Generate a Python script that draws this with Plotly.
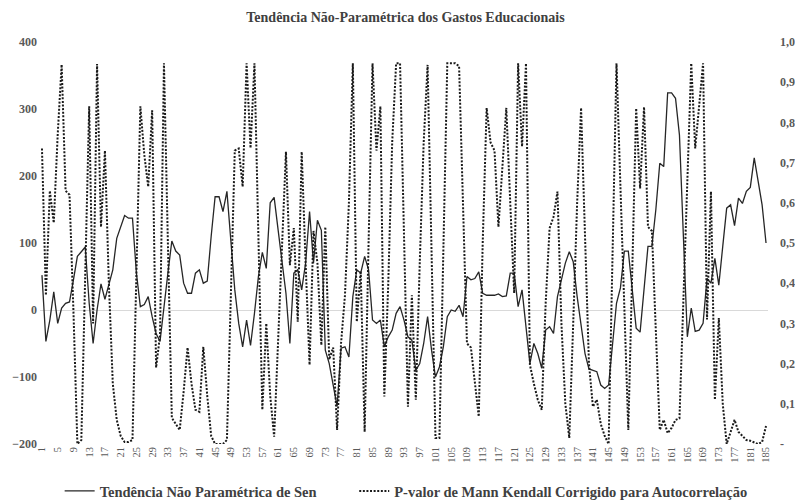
import plotly.graph_objects as go

categories = list(range(1, 186))

sen_trend = [
    52, -47, -15, 27, -20, 3, 10, 12, 45, 80,
    87, 94, 10, -50, 0, 39, 16, 40, 60, 107,
    125, 141, 137, 137, 55, 5, 8, 20, -10, -35,
    -47, 0, 55, 103, 88, 82, 40, 25, 25, 55,
    60, 40, 43, 110, 169, 169, 147, 177, 110, 30,
    -20, -55, -15, -53, -5, 50, 86, 62, 160, 168,
    120, 75, 25, -50, 55, 60, 30, 70, 147, 70,
    134, 119, -60, -80, -110, -144, -57, -55, -70, 20,
    60, 55, 80, 60, -15, -20, -15, -55, -40, -30,
    -5, 5, -15, -40, -45, -90, -80, -50, -10, -60,
    -100, -85, -55, -10, 0, -2, 7, -10, 50, 45,
    47, 57, 25, 22, 22, 22, 24, 20, 21, 55,
    55, 5, 30, -30, -80, -50, -65, -87, -30, -25,
    -35, 20, 45, 70, 87, 72, 20, -25, -65, -88,
    -90, -92, -112, -117, -112, -50, 10, 33, 88, 88,
    30, -27, -33, 30, 95, 95, 150, 219, 214, 324,
    324, 316, 261, 110, -40, 3, -32, -30, -20, 47,
    40, 77, 37, 95, 152, 157, 126, 167, 159, 177,
    183, 227, 192, 157, 100,
]

p_value = [
    0.735, 0.37, 0.63, 0.55, 0.77, 0.944, 0.63, 0.62, 0.33, 0.0,
    0.01, 0.44, 0.84, 0.30, 0.945, 0.54, 0.73, 0.40, 0.15, 0.06,
    0.02, 0.005, 0.005, 0.01, 0.45, 0.84, 0.72, 0.64, 0.83, 0.19,
    0.27, 0.947, 0.5, 0.065, 0.05, 0.035, 0.13, 0.24, 0.15, 0.085,
    0.08, 0.242, 0.12, 0.02, 0.0, 0.0, 0.0, 0.01, 0.35, 0.73,
    0.735, 0.64, 0.947, 0.736, 0.947, 0.5, 0.085, 0.30, 0.12, 0.018,
    0.25, 0.5, 0.727, 0.445, 0.537, 0.304, 0.727, 0.45, 0.197, 0.53,
    0.45, 0.246, 0.54, 0.21, 0.24, 0.035, 0.25, 0.37, 0.6, 0.947,
    0.304, 0.43, 0.03, 0.5, 0.947, 0.73, 0.84, 0.118, 0.4, 0.75,
    0.947, 0.947, 0.5, 0.093, 0.37, 0.11, 0.45, 0.75, 0.943, 0.45,
    0.015, 0.015, 0.5, 0.947, 0.947, 0.947, 0.94, 0.6, 0.25, 0.24,
    0.15, 0.068, 0.5, 0.836, 0.75, 0.73, 0.54, 0.7, 0.836, 0.6,
    0.375, 0.947, 0.74, 0.947, 0.197, 0.15, 0.11, 0.085, 0.35, 0.537,
    0.565, 0.628, 0.3, 0.1, 0.015, 0.3, 0.6, 0.836, 0.5, 0.2,
    0.093, 0.11, 0.05, 0.02, 0.0, 0.47, 0.947, 0.64, 0.33, 0.035,
    0.43, 0.835, 0.636, 0.838, 0.54, 0.53, 0.28, 0.035, 0.06, 0.027,
    0.04, 0.06, 0.064, 0.35, 0.65, 0.947, 0.735, 0.84, 0.947, 0.31,
    0.628, 0.11, 0.313, 0.1, 0.0, 0.03, 0.06, 0.03, 0.02, 0.01,
    0.008, 0.003, 0.0, 0.005, 0.045,
]

x_tick_vals = list(range(1, 186, 4))
left_ticks = [-200, -100, 0, 100, 200, 300, 400]
right_tick_vals = [0, 0.1, 0.2, 0.3, 0.4, 0.5, 0.6, 0.7, 0.8, 0.9, 1.0]
right_tick_text = ["-", "0,10", "0,20", "0,30", "0,40", "0,50", "0,60", "0,70", "0,80", "0,90", "1,00"]

title_text = "Tendência Não-Paramétrica dos Gastos Educacionais"
name_sen = "Tendência Não Paramétrica de Sen" + "\u00a0" * 9
name_p = "P-valor de Mann Kendall Corrigido para Autocorrelação"

FONT = "Liberation Serif"
GRAY = "#595959"

fig = go.Figure()
fig.add_trace(go.Scatter(
    x=categories, y=p_value, name=name_p, yaxis="y2", mode="lines",
    line=dict(color="#1a1a1a", width=2, dash="2px,1.6px"),
))
fig.add_trace(go.Scatter(
    x=categories, y=sen_trend, name=name_sen, yaxis="y", mode="lines",
    line=dict(color="#262626", width=1.3),
))

fig.update_layout(
    width=795, height=492,
    margin=dict(l=32, r=35, t=34, b=56, autoexpand=False),
    paper_bgcolor="white", plot_bgcolor="white",
    showlegend=True,
    title=dict(text=title_text, x=0.5, xanchor="center", y=1 - 9 / 492, yanchor="middle",
               font=dict(family=FONT, size=14, color="#404040", weight="bold")),
    legend=dict(orientation="h", x=0.027, xanchor="left", y=-0.117, yanchor="middle",
                traceorder="reversed", itemwidth=30,
                font=dict(family=FONT, size=14.5, color="#404040", weight="bold"),
                bgcolor="rgba(0,0,0,0)"),
    xaxis=dict(range=[0.5, 185.5], tickmode="array", tickvals=x_tick_vals,
               ticktext=[str(v) for v in x_tick_vals], tickangle=-90,
               showgrid=False, zeroline=False, showline=False, ticks="",
               tickfont=dict(family=FONT, size=10.5, color=GRAY), automargin=False),
    yaxis=dict(range=[-200, 400], tickmode="array", tickvals=left_ticks,
               showgrid=False, zeroline=True, zerolinecolor="#d9d9d9", zerolinewidth=1,
               showline=False, ticks="", ticklabelstandoff=2,
               tickfont=dict(family=FONT, size=12, color=GRAY, weight="bold"), automargin=False),
    yaxis2=dict(range=[0, 1.0], overlaying="y", side="right", tickmode="array",
                tickvals=right_tick_vals, ticktext=right_tick_text,
                showgrid=False, zeroline=False, showline=False, ticks="", ticklabelstandoff=11,
                tickfont=dict(family=FONT, size=12, color=GRAY, weight="bold"), automargin=False),
)

fig.write_html("out.html")
